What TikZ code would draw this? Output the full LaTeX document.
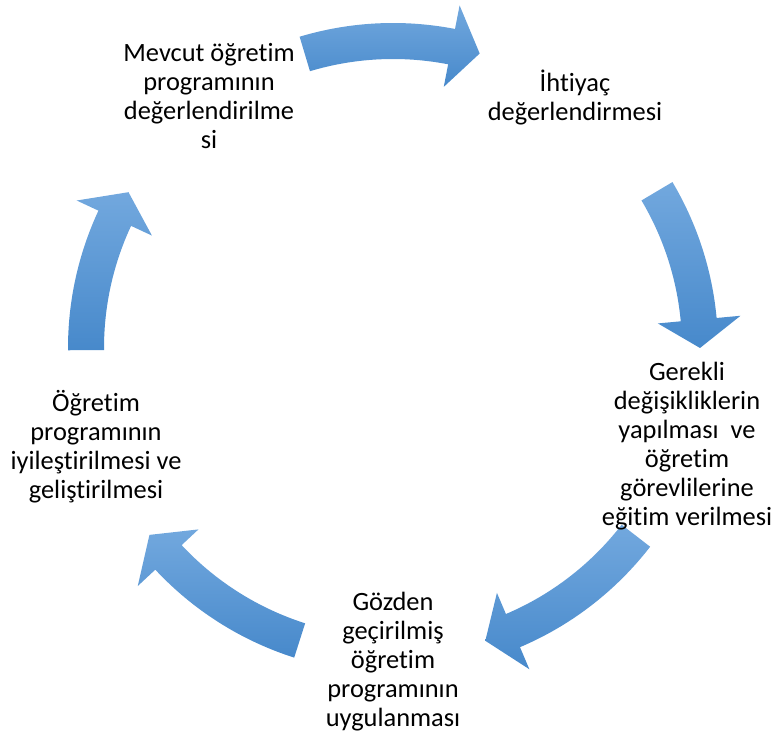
\documentclass[tikz,border=0pt]{standalone}
\usepackage{fontspec}
\setmainfont{Carlito}[RawFeature={-liga;-clig}]
\definecolor{arrowtop}{HTML}{72A8DE}
\definecolor{arrowbot}{HTML}{4789CB}
\tikzset{
  lbl/.style={align=center, inner sep=0pt, font=\fontsize{26.4}{29}\selectfont, text=black},
  cyclearrow/.style={top color=arrowtop, bottom color=arrowbot, draw=none}
}
% #1 tail angle, #2 head base angle, #3 tip angle
\newcommand{\cyclearr}[3]{%
  \shade[cyclearrow] (#1:325) arc[start angle=#1, end angle=#2, radius=325]
    -- (#2:349) -- (#3:307) -- (#2:266) -- (#2:289)
    arc[start angle=#2, end angle=#1, radius=289] -- cycle;}
\begin{document}
\begin{tikzpicture}[x=1pt,y=1pt]
\useasboundingbox (0,0) rectangle (776,734);
\coordinate (C) at (393,386);
\begin{scope}[shift={(C)}]
\cyclearr{106.7}{79}{73.6}
\cyclearr{30.7}{5.3}{0}
\cyclearr{322.3}{293}{287.5}
\cyclearr{252.3}{223}{217.5}
\cyclearr{180.4}{155}{149.5}
\end{scope}
\node[lbl] (n1) at (209,638) {Mevcut öğretim\\programının\\değerlendirilme\\si};
\node[lbl] (n2) at (575,636.5) {İhtiyaç\\değerlendirmesi};
\node[lbl] (n3) at (687,288) {Gerekli\\değişikliklerin\\yapılması\ \ ve\\öğretim\\görevlilerine\\eğitim verilmesi};
\node[lbl] (n4) at (393,72) {Gözden\\geçirilmiş\\öğretim\\programının\\uygulanması};
\node[lbl] (n5) at (96,287) {Öğretim\\programının\\iyileştirilmesi ve\\geliştirilmesi};
\end{tikzpicture}
\end{document}
